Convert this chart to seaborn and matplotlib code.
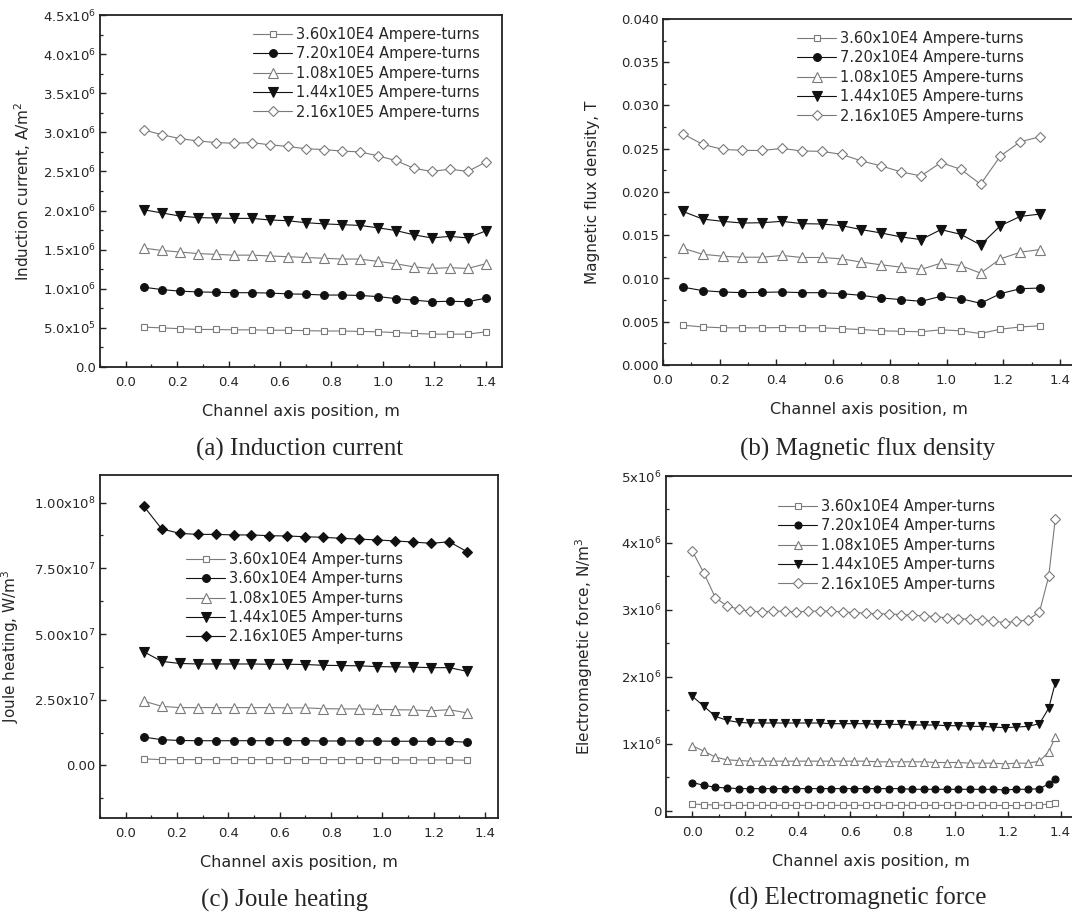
import numpy as np
import pandas as pd
import seaborn as sns
import matplotlib
matplotlib.use("Agg")
import matplotlib.pyplot as plt
from matplotlib.ticker import MultipleLocator, FixedLocator

# ---------------- data ----------------
labels_ab = ["3.60x10E4 Ampere-turns", "7.20x10E4 Ampere-turns", "1.08x10E5 Ampere-turns",
             "1.44x10E5 Ampere-turns", "2.16x10E5 Ampere-turns"]
labels_c = ["3.60x10E4 Amper-turns", "3.60x10E4 Amper-turns", "1.08x10E5 Amper-turns",
            "1.44x10E5 Amper-turns", "2.16x10E5 Amper-turns"]
labels_d = ["3.60x10E4 Amper-turns", "7.20x10E4 Amper-turns", "1.08x10E5 Amper-turns",
            "1.44x10E5 Amper-turns", "2.16x10E5 Amper-turns"]

# (a) Induction current, A/m^2 (x1e6)
x_a = [0.07, 0.14, 0.21, 0.28, 0.35, 0.42, 0.49, 0.56, 0.63, 0.70,
       0.77, 0.84, 0.91, 0.98, 1.05, 1.12, 1.19, 1.26, 1.33, 1.40]
a_sq = [0.51, 0.50, 0.49, 0.48, 0.48, 0.475, 0.475, 0.47, 0.47, 0.465,
        0.46, 0.46, 0.455, 0.45, 0.44, 0.43, 0.42, 0.42, 0.42, 0.45]
a_ci = [1.02, 0.99, 0.97, 0.96, 0.955, 0.95, 0.95, 0.945, 0.935, 0.93,
        0.92, 0.92, 0.915, 0.90, 0.875, 0.855, 0.835, 0.84, 0.835, 0.88]
a_tu = [1.52, 1.49, 1.47, 1.45, 1.44, 1.43, 1.43, 1.42, 1.41, 1.40,
        1.39, 1.38, 1.38, 1.35, 1.32, 1.28, 1.26, 1.27, 1.26, 1.32]
a_td = [2.01, 1.97, 1.93, 1.91, 1.905, 1.90, 1.90, 1.88, 1.87, 1.845,
        1.83, 1.82, 1.81, 1.78, 1.745, 1.69, 1.65, 1.67, 1.65, 1.74]
a_di = [3.03, 2.97, 2.92, 2.89, 2.87, 2.86, 2.87, 2.84, 2.82, 2.79,
        2.78, 2.76, 2.75, 2.70, 2.64, 2.54, 2.50, 2.53, 2.50, 2.62]

# (b) Magnetic flux density, T
x_b = [0.07, 0.14, 0.21, 0.28, 0.35, 0.42, 0.49, 0.56, 0.63, 0.70,
       0.77, 0.84, 0.91, 0.98, 1.05, 1.12, 1.19, 1.26, 1.33]
b_sq = [0.0046, 0.0044, 0.0043, 0.0043, 0.0043, 0.00433, 0.0043, 0.0043, 0.0042, 0.0041,
        0.00395, 0.0039, 0.00384, 0.00407, 0.00395, 0.00364, 0.00414, 0.0044, 0.00453]
b_ci = [0.0090, 0.0086, 0.00844, 0.00836, 0.0084, 0.00844, 0.00836, 0.00836, 0.00825, 0.00805,
        0.00775, 0.00756, 0.00736, 0.00794, 0.00767, 0.00713, 0.00825, 0.00882, 0.0089]
b_tu = [0.0135, 0.0128, 0.01258, 0.01246, 0.01246, 0.01266, 0.01243, 0.01243, 0.01227, 0.01189,
        0.01158, 0.01131, 0.01105, 0.01177, 0.0115, 0.01062, 0.01227, 0.01304, 0.01335]
b_td = [0.01776, 0.01687, 0.01661, 0.01641, 0.01645, 0.01661, 0.01634, 0.0163, 0.01611, 0.01565,
        0.01526, 0.0148, 0.0145, 0.01565, 0.01511, 0.01388, 0.0161, 0.01718, 0.01745]
b_di = [0.02673, 0.0255, 0.02493, 0.02481, 0.0248, 0.02504, 0.02474, 0.0247, 0.02435, 0.02359,
        0.02301, 0.02232, 0.02186, 0.0234, 0.02263, 0.0209, 0.02416, 0.02581, 0.02639]

# (c) Joule heating, W/m^3 (x1e7)
x_c = [0.07, 0.14, 0.21, 0.28, 0.35, 0.42, 0.49, 0.56, 0.63, 0.70,
       0.77, 0.84, 0.91, 0.98, 1.05, 1.12, 1.19, 1.26, 1.33]
c_sq = [0.25, 0.22, 0.22, 0.22, 0.22, 0.22, 0.22, 0.22, 0.22, 0.22,
        0.22, 0.22, 0.22, 0.22, 0.21, 0.21, 0.21, 0.21, 0.20]
c_ci = [1.08, 0.98, 0.95, 0.94, 0.94, 0.94, 0.94, 0.94, 0.94, 0.94,
        0.93, 0.93, 0.93, 0.93, 0.92, 0.92, 0.92, 0.92, 0.88]
c_tu = [2.45, 2.25, 2.20, 2.20, 2.20, 2.20, 2.20, 2.20, 2.19, 2.19,
        2.16, 2.15, 2.15, 2.13, 2.12, 2.11, 2.08, 2.12, 2.00]
c_td = [4.33, 3.96, 3.88, 3.86, 3.86, 3.86, 3.86, 3.85, 3.85, 3.84,
        3.81, 3.80, 3.79, 3.76, 3.75, 3.74, 3.72, 3.72, 3.58]
c_di = [9.87, 9.00, 8.83, 8.79, 8.79, 8.77, 8.77, 8.74, 8.73, 8.70,
        8.68, 8.64, 8.61, 8.58, 8.54, 8.50, 8.45, 8.51, 8.13]

# (d) Electromagnetic force, N/m^3 (x1e6)
x_d = [0.000, 0.044, 0.088, 0.132, 0.176, 0.220, 0.264, 0.308, 0.352, 0.396,
       0.440, 0.484, 0.528, 0.572, 0.616, 0.660, 0.704, 0.748, 0.792, 0.836,
       0.880, 0.924, 0.968, 1.012, 1.056, 1.100, 1.144, 1.188, 1.232, 1.276,
       1.320, 1.355, 1.380]
d_sq = [0.10, 0.09, 0.085, 0.08, 0.08, 0.08, 0.08, 0.08, 0.08, 0.08,
        0.08, 0.08, 0.08, 0.08, 0.08, 0.08, 0.08, 0.08, 0.08, 0.08,
        0.08, 0.08, 0.08, 0.08, 0.08, 0.08, 0.078, 0.078, 0.078, 0.08,
        0.085, 0.10, 0.12]
d_ci = [0.42, 0.38, 0.35, 0.34, 0.33, 0.33, 0.33, 0.33, 0.33, 0.33,
        0.33, 0.33, 0.33, 0.33, 0.33, 0.33, 0.33, 0.33, 0.33, 0.32,
        0.32, 0.32, 0.32, 0.32, 0.32, 0.32, 0.32, 0.31, 0.32, 0.32,
        0.33, 0.40, 0.48]
d_tu = [0.97, 0.89, 0.80, 0.76, 0.75, 0.74, 0.74, 0.74, 0.74, 0.74,
        0.74, 0.74, 0.74, 0.74, 0.74, 0.74, 0.73, 0.73, 0.73, 0.73,
        0.73, 0.72, 0.72, 0.72, 0.71, 0.71, 0.71, 0.70, 0.71, 0.71,
        0.74, 0.88, 1.10]
d_td = [1.71, 1.56, 1.41, 1.35, 1.32, 1.31, 1.31, 1.31, 1.31, 1.31,
        1.31, 1.31, 1.30, 1.30, 1.30, 1.30, 1.29, 1.29, 1.29, 1.28,
        1.28, 1.28, 1.27, 1.27, 1.26, 1.26, 1.25, 1.24, 1.25, 1.26,
        1.30, 1.53, 1.91]
d_di = [3.88, 3.55, 3.18, 3.06, 3.01, 2.98, 2.97, 2.98, 2.98, 2.97,
        2.98, 2.98, 2.98, 2.97, 2.96, 2.95, 2.94, 2.94, 2.93, 2.92,
        2.91, 2.90, 2.88, 2.87, 2.86, 2.85, 2.83, 2.81, 2.83, 2.85,
        2.97, 3.50, 4.36]

ya_ticks = [0, 0.5e6, 1.0e6, 1.5e6, 2.0e6, 2.5e6, 3.0e6, 3.5e6, 4.0e6, 4.5e6]
ya_labels = ["0.0", r"5.0x10$^{5}$", r"1.0x10$^{6}$", r"1.5x10$^{6}$", r"2.0x10$^{6}$",
             r"2.5x10$^{6}$", r"3.0x10$^{6}$", r"3.5x10$^{6}$", r"4.0x10$^{6}$", r"4.5x10$^{6}$"]
yb_ticks = [0.0, 0.005, 0.010, 0.015, 0.020, 0.025, 0.030, 0.035, 0.040]
yb_labels = ["0.000", "0.005", "0.010", "0.015", "0.020", "0.025", "0.030", "0.035", "0.040"]
yc_ticks = [0, 2.5e7, 5.0e7, 7.5e7, 1.0e8]
yc_labels = ["0.00", r"2.50x10$^{7}$", r"5.00x10$^{7}$", r"7.50x10$^{7}$", r"1.00x10$^{8}$"]
yd_ticks = [0, 1e6, 2e6, 3e6, 4e6, 5e6]
yd_labels = ["0", r"1x10$^{6}$", r"2x10$^{6}$", r"3x10$^{6}$", r"4x10$^{6}$", r"5x10$^{6}$"]
x_ticks = [0.0, 0.2, 0.4, 0.6, 0.8, 1.0, 1.2, 1.4]
x_labels = ["0.0", "0.2", "0.4", "0.6", "0.8", "1.0", "1.2", "1.4"]

# ---------------- style ----------------
sns.set_style("ticks")
plt.rcParams["font.family"] = ["DejaVu Sans"]
plt.rcParams["mathtext.fontset"] = "dejavusans"

W, H = 1072, 913
fig = plt.figure(figsize=(W / 100, H / 100), dpi=100)

GRAY = "#7a7a7a"
BLACK = "#111111"


def px_axes(l, t, r, b):
    return fig.add_axes([l / W, 1 - b / H, (r - l) / W, (b - t) / H])


def styles(filled_last):
    return [("s", False, 4.6), ("o", True, 5.6), ("^", False, 6.8), ("v", True, 6.8),
            ("D", filled_last, 5.6)]


def draw(ax, x, series, scale, labels, filled_last=False, msmul=1.0):
    for (mk, filled, ms), y, lab in zip(styles(filled_last), series, labels):
        col = BLACK if filled else GRAY
        df = pd.DataFrame({"x": x, "y": np.asarray(y) * scale})
        sns.lineplot(data=df, x="x", y="y", ax=ax, color=col, linewidth=0.8,
                     marker=mk, markersize=ms * msmul,
                     markerfacecolor=(col if filled else "white"),
                     markeredgecolor=col, markeredgewidth=0.8,
                     label=lab, legend=False, sort=False)


def finish(ax, xlim, ylim, yticks, ylabels, ymin_step, ylabel, ylabel_x_px, axl_px,
           leg_xy, caption, cap_xy):
    ax.set_xlim(*xlim)
    ax.set_ylim(*ylim)
    ax.xaxis.set_major_locator(FixedLocator(x_ticks))
    ax.set_xticklabels(x_labels)
    ax.xaxis.set_minor_locator(MultipleLocator(0.1))
    ax.yaxis.set_major_locator(FixedLocator(yticks))
    ax.set_yticklabels(ylabels)
    ax.yaxis.set_minor_locator(MultipleLocator(ymin_step))
    ax.tick_params(which="both", direction="in", top=False, right=False, color="#222222")
    ax.tick_params(which="major", length=4.5, width=1.0, labelsize=9.5, pad=6.5)
    ax.tick_params(axis="y", which="major", pad=3)
    ax.tick_params(which="minor", length=2.5, width=0.9)
    for sp in ax.spines.values():
        sp.set_linewidth(1.3)
        sp.set_color("#222222")
    ax.set_xlabel("Channel axis position, m", fontsize=11.5, labelpad=11)
    ax.set_ylabel(ylabel, fontsize=11)
    # label coords give the right edge of the rotated label
    ax.yaxis.set_label_coords((ylabel_x_px + 8 - axl_px) / ax.bbox.width, 0.5)
    h, l = ax.get_legend_handles_labels()
    ax.legend(h, l, loc="upper left", bbox_to_anchor=(leg_xy[0] / W, 1 - leg_xy[1] / H),
              bbox_transform=fig.transFigure, frameon=False, fontsize=10.5,
              numpoints=1, handlelength=2.7, handletextpad=0.25, labelspacing=0.3,
              borderpad=0, borderaxespad=0)
    fig.text(cap_xy[0] / W, 1 - cap_xy[1] / H, caption, ha="center", va="center",
             fontsize=18, family=["Liberation Serif", "DejaVu Serif"])


# (a)
axA = px_axes(100, 15, 502, 367)
draw(axA, x_a, [a_sq, a_ci, a_tu, a_td, a_di], 1e6, labels_ab)
finish(axA, (-0.1, 1.463), (0, 4.5e6), ya_ticks, ya_labels, 0.25e6,
       r"Induction current, A/m$^{2}$", 25, 100, (253, 27),
       "(a) Induction current", (300, 449))

# (b)
axB = px_axes(663, 19, 1075, 365)
draw(axB, x_b, [b_sq, b_ci, b_tu, b_td, b_di], 1.0, labels_ab)
finish(axB, (0.0, 1.453), (0, 0.04), yb_ticks, yb_labels, 0.0025,
       "Magnetic flux density, T", 592, 663, (797, 31),
       "(b) Magnetic flux density", (868, 449))

# (c)
axC = px_axes(100, 475, 498, 818)
draw(axC, x_c, [c_sq, c_ci, c_tu, c_td, c_di], 1e7, labels_c, filled_last=True)
finish(axC, (-0.1, 1.45), (-2.0e7, 1.105e8), yc_ticks, yc_labels, 1.25e7,
       r"Joule heating, W/m$^{3}$", 13, 100, (186, 552),
       "(c) Joule heating", (285, 900))

# (d)
axD = px_axes(666, 476, 1075, 817)
draw(axD, x_d, [d_sq, d_ci, d_tu, d_td, d_di], 1e6, labels_d, msmul=0.9)
finish(axD, (-0.1, 1.455), (-0.094e6, 5.0e6), yd_ticks, yd_labels, 0.5e6,
       r"Electromagnetic force, N/m$^{3}$", 587, 666, (778, 499),
       "(d) Electromagnetic force", (858, 898))

fig.savefig("out.png", dpi=100)
